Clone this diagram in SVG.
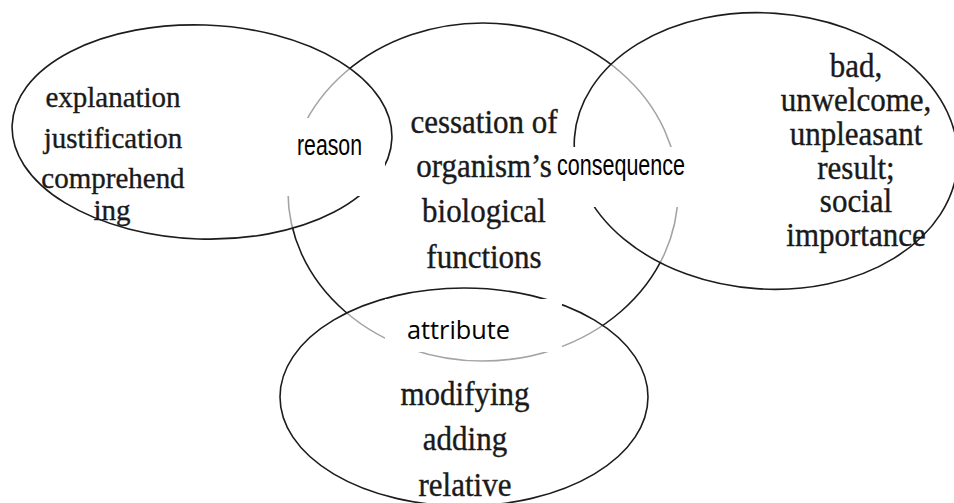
<svg xmlns="http://www.w3.org/2000/svg" width="954" height="503" viewBox="0 0 954 503">
  <style>
    .ring { stroke: #1c1c1c; stroke-width: 1.6; }
    .base { fill: #ffffff; }
    .over { fill: #ffffff; fill-opacity: 0.6; }
    .term { font-family: "Liberation Serif", "Times New Roman", serif; fill: #1a1a1a; stroke: #1a1a1a; stroke-width: 0.35; text-anchor: middle; }
    .rel { font-family: "Liberation Sans", Arial, sans-serif; font-size: 29px; fill: #000; }
    .rel2 { font-family: "Open Sans", "Liberation Sans", sans-serif; font-size: 25px; fill: #000; }
    .box { fill: #ffffff; }
  </style>
  <rect width="954" height="503" fill="#ffffff"/>

  <!-- central concept -->
  <g id="node-center">
    <ellipse class="ring base" cx="483" cy="192" rx="195" ry="169"/>
    <text class="term" font-size="31" x="484" y="133" transform="matrix(1 0 0 1.1 0 -13.3)">cessation of</text>
    <text class="term" font-size="31" x="484" y="177" transform="matrix(1 0 0 1.1 0 -17.7)">organism’s</text>
    <text class="term" font-size="31" x="484" y="222" transform="matrix(1 0 0 1.1 0 -22.2)">biological</text>
    <text class="term" font-size="31" x="484" y="268" transform="matrix(1 0 0 1.1 0 -26.8)">functions</text>
  </g>

  <!-- left circle -->
  <g id="node-left">
    <ellipse class="ring over" cx="202" cy="132" rx="190" ry="107" transform="rotate(2 202 132)"/>
    <text class="term" font-size="29" x="113" y="107" transform="matrix(1 0 0 1.05 0 -5.35)">explanation</text>
    <text class="term" font-size="29" x="113" y="148" transform="matrix(1 0 0 1.05 0 -7.4)">justification</text>
    <text class="term" font-size="29" x="113" y="188" transform="matrix(1 0 0 1.05 0 -9.4)">comprehend</text>
    <text class="term" font-size="29" x="112" y="220" transform="matrix(1 0 0 1.05 0 -11)">ing</text>
  </g>

  <!-- right circle -->
  <g id="node-right">
    <ellipse class="ring over" cx="766" cy="151" rx="192" ry="138" transform="rotate(4 766 151)"/>
    <text class="term" font-size="31" x="856" y="77" transform="matrix(1 0 0 1.1 0 -7.7)">bad,</text>
    <text class="term" font-size="31" x="856" y="111" transform="matrix(1 0 0 1.1 0 -11.1)">unwelcome,</text>
    <text class="term" font-size="31" x="856" y="145" transform="matrix(1 0 0 1.1 0 -14.5)">unpleasant</text>
    <text class="term" font-size="31" x="856" y="179" transform="matrix(1 0 0 1.1 0 -17.9)">result;</text>
    <text class="term" font-size="31" x="856" y="212" transform="matrix(1 0 0 1.1 0 -21.2)">social</text>
    <text class="term" font-size="31" x="856" y="246" transform="matrix(1 0 0 1.1 0 -24.6)">importance</text>
  </g>

  <!-- bottom circle -->
  <g id="node-bottom">
    <ellipse class="ring over" cx="464" cy="397" rx="184" ry="109"/>
    <text class="term" font-size="31" x="465" y="405" transform="matrix(1 0 0 1.1 0 -40.5)">modifying</text>
    <text class="term" font-size="31" x="465" y="450" transform="matrix(1 0 0 1.1 0 -45)">adding</text>
    <text class="term" font-size="31" x="465" y="496" transform="matrix(1 0 0 1.1 0 -49.6)">relative</text>
  </g>

  <!-- relation labels in the overlaps -->
  <g id="links">
    <g id="link-reason">
      <rect class="box" x="280" y="118" width="105" height="78"/>
      <text class="rel" x="297" y="155" textLength="65" lengthAdjust="spacingAndGlyphs">reason</text>
    </g>
    <g id="link-consequence">
      <rect class="box" x="555" y="147" width="135" height="60"/>
      <text class="rel" x="557" y="175" textLength="128" lengthAdjust="spacingAndGlyphs">consequence</text>
    </g>
    <g id="link-attribute">
      <rect class="box" x="385" y="299" width="177" height="53"/>
      <text class="rel2" x="407" y="339" textLength="103" lengthAdjust="spacingAndGlyphs">attribute</text>
    </g>
  </g>
</svg>
